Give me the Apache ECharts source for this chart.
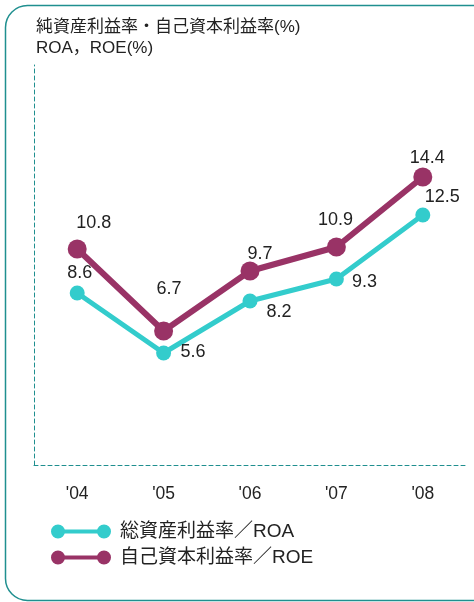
<!DOCTYPE html>
<html>
<head>
<meta charset="utf-8">
<script src="https://cdn.jsdelivr.net/npm/echarts@6/dist/echarts.min.js"></script>
<style>
	html, body { margin:0; padding:0; background:#fff; }
	#chart { width:474px; height:602px; }
</style>
</head>
<body>
<div id="chart"></div>
<script>
var years = ["'04", "'05", "'06", "'07", "'08"];
var roa = [8.6, 5.6, 8.2, 9.3, 12.5];
var roe = [10.8, 6.7, 9.7, 10.9, 14.4];
var roaName = '総資産利益率／ROA';
var roeName = '自己資本利益率／ROE';

// label nudges per point (style only)
var roaOffsets = [[2.5, 1.5], [29.5, 20.5], [29, 33], [28, 24.5], [19.5, 3.5]];
var roeOffsets = [[16.5, -2], [5.5, -18.5], [10, 6.5], [-1, -3.5], [4.5, 5]];

var font = '"Liberation Sans", Arial, "Noto Sans CJK JP", sans-serif';
var teal = '#1f8f8f';
var legendIcon = 'path://M0,7 A7,7 0 1,1 14,7 A7,7 0 1,1 0,7 Z M46,7 A7,7 0 1,1 60,7 A7,7 0 1,1 46,7 Z M7,5 L53,5 L53,9 L7,9 Z';

var buildData = function(values, offsets){
	var out = [];
	for( var i = 0; i < values.length; i++ ){
		out.push( {value:values[i], label:{offset:offsets[i]}} );
	}
	return out;
};

var chart = echarts.init( document.getElementById( 'chart' ) );
chart.setOption( {
	animation:false,
	textStyle:{fontFamily:font},
	graphic:[
		{
			type:'rect',
			shape:{x:5.5, y:5.5, width:490, height:595, r:22},
			style:{fill:'none', stroke:teal, lineWidth:1.5},
			silent:true
		}
	],
	title:{
		text:'純資産利益率・自己資本利益率(%)\nROA，ROE(%)',
		left:31,
		top:12,
		textStyle:{fontSize:17, fontWeight:'normal', color:'#222', lineHeight:21, fontFamily:font}
	},
	legend:{
		orient:'vertical',
		left:46,
		top:517,
		itemWidth:60,
		itemHeight:14,
		itemGap:7,
		icon:legendIcon,
		textStyle:{fontSize:19, color:'#222', padding:[0, 0, 0, 4], fontFamily:font},
		data:[roaName, roeName]
	},
	grid:{left:34, right:8, top:65, bottom:137},
	xAxis:{
		type:'category',
		data:years,
		boundaryGap:true,
		axisLine:{lineStyle:{color:teal, type:[4, 3], width:1}},
		axisTick:{show:false},
		axisLabel:{fontSize:17.5, color:'#222', margin:20, fontFamily:font}
	},
	yAxis:{
		type:'value',
		min:0,
		max:20,
		axisLine:{show:true, lineStyle:{color:teal, type:[4, 3], width:1}},
		axisTick:{show:false},
		axisLabel:{show:false},
		splitLine:{show:false}
	},
	series:[
		{
			name:roaName,
			type:'line',
			data:buildData( roa, roaOffsets ),
			symbol:'circle',
			symbolSize:15,
			color:'#33cccc',
			lineStyle:{width:5, color:'#33cccc'},
			itemStyle:{color:'#33cccc'},
			label:{show:true, position:'top', fontSize:18, color:'#222', fontFamily:font}
		},
		{
			name:roeName,
			type:'line',
			data:buildData( roe, roeOffsets ),
			symbol:'circle',
			symbolSize:19,
			color:'#993366',
			lineStyle:{width:6, color:'#993366'},
			itemStyle:{color:'#993366'},
			label:{show:true, position:'top', fontSize:18, color:'#222', fontFamily:font}
		}
	]
} );
</script>
</body>
</html>
